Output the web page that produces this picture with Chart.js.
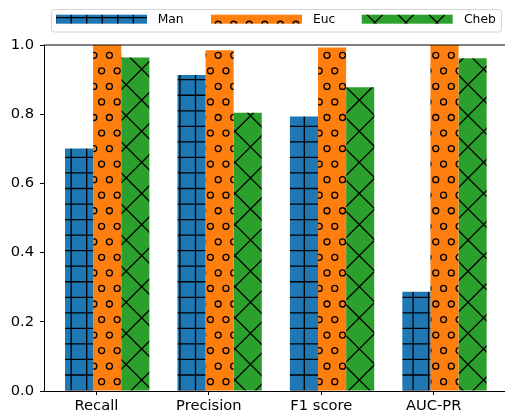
<!DOCTYPE html>
<html>
<head>
<meta charset="utf-8">
<script src="https://cdn.jsdelivr.net/npm/chart.js@4/dist/chart.umd.min.js"></script>
<style>
  html, body { margin: 0; padding: 0; background: #fff; overflow: hidden; }
  #wrap { width: 505px; height: 413px; }
</style>
</head>
<body>
<div id="wrap"><canvas id="c" width="505" height="413"></canvas></div>
<script>
// Metric names along the x axis
const categories = ['Recall', 'Precision', 'F1 score', 'AUC-PR'];
// Distance measures compared
const seriesNames = ['Man', 'Euc', 'Cheb'];
// Score per metric for each distance measure
const manValues  = [0.701, 0.913, 0.793, 0.287];
const eucValues  = [1.000, 0.985, 0.993, 1.000];
const chebValues = [0.964, 0.804, 0.878, 0.962];
// Value axis ticks
const yTicks = [0.0, 0.2, 0.4, 0.6, 0.8, 1.0];

// bar groups sit slightly right of their category tick
const GROUP_SHIFT = 0.096;

const FONT = '"DejaVu Sans", "Liberation Sans", sans-serif';
const canvas = document.getElementById('c');
const ctx = canvas.getContext('2d');

// ---- hatch patterns (tiles repeat seamlessly; 24 hatch steps per tile) ----
const TILE = 373;
const STEP = TILE / 24;
const HATCH_LW = 1.3;

function makePattern(bg, drawHatch) {
  const t = document.createElement('canvas');
  t.width = TILE; t.height = TILE;
  const g = t.getContext('2d');
  g.fillStyle = bg;
  g.fillRect(0, 0, TILE, TILE);
  g.strokeStyle = '#000';
  g.lineWidth = HATCH_LW;
  drawHatch(g);
  return ctx.createPattern(t, 'repeat');
}

// '+' : square grid
const gridHatch = (g) => {
  g.beginPath();
  for (let k = -1; k <= 25; k++) {
    const x = 9.0 + k * STEP;
    g.moveTo(x, -5); g.lineTo(x, TILE + 5);
    const y = 2.0 + k * STEP;
    g.moveTo(-5, y); g.lineTo(TILE + 5, y);
  }
  g.stroke();
};

// 'o' : small rings on staggered rows
const ringHatch = (g) => {
  const r = 3.0;
  for (let j = 0; j < 24; j++) {
    const y = 8.7 + j * STEP;
    const x0 = 0.6 + (j % 2 === 1 ? 0 : STEP / 2);
    for (let k = -1; k <= 24; k++) {
      const x = x0 + k * STEP;
      for (const dx of [-TILE, 0, TILE]) {
        for (const dy of [-TILE, 0, TILE]) {
          g.beginPath();
          g.arc(x + dx, y + dy, r, 0, Math.PI * 2);
          g.stroke();
        }
      }
    }
  }
};

// 'x' : crossing diagonals
const crossHatch = (g) => {
  const gap = 2 * STEP;
  g.beginPath();
  for (let k = -30; k <= 30; k++) {
    const c1 = 20.7 + k * gap;
    g.moveTo(-TILE, -TILE + c1); g.lineTo(2 * TILE, 2 * TILE + c1);
    const c2 = 24.3 + k * gap;
    g.moveTo(-TILE, TILE + c2); g.lineTo(2 * TILE, -2 * TILE + c2);
  }
  g.stroke();
};

const fills = [
  makePattern('#1f77b4', gridHatch),
  makePattern('#ff7f0e', ringHatch),
  makePattern('#2ca02c', crossHatch)
];

const seriesValues = [manValues, eucValues, chebValues];
const datasets = seriesNames.map((name, s) => ({
  label: name,
  data: seriesValues[s].map((v, i) => ({ x: i + GROUP_SHIFT, y: v })),
  backgroundColor: fills[s],
  borderWidth: 0,
  categoryPercentage: 0.75,
  barPercentage: 1.0
}));

// ---- frame line along the top of the plot ----
const topSpine = {
  id: 'topSpine',
  afterDatasetsDraw(chart) {
    const a = chart.chartArea;
    const c = chart.ctx;
    c.save();
    c.strokeStyle = '#000';
    c.lineWidth = 1;
    c.beginPath();
    c.moveTo(a.left, a.top);
    c.lineTo(a.right, a.top);
    c.stroke();
    c.restore();
  }
};

// ---- framed legend row above the plot ----
const legendRow = {
  id: 'legendRow',
  afterDraw(chart) {
    const c = chart.ctx;
    const box = { x: 51.5, y: 9.5, w: 450, h: 22.5, r: 3 };
    const patchX = [56, 211, 361.7];
    const textX = [157.7, 313, 464];
    const patchW = 91, patchY = 14.7, patchH = 9;
    c.save();
    c.beginPath();
    c.roundRect(box.x, box.y, box.w, box.h, box.r);
    c.fillStyle = 'rgba(255,255,255,0.9)';
    c.fill();
    c.strokeStyle = '#d4d4d4';
    c.lineWidth = 1;
    c.stroke();
    chart.data.datasets.forEach((ds, i) => {
      c.fillStyle = ds.backgroundColor;
      c.fillRect(patchX[i], patchY, patchW, patchH);
      c.fillStyle = '#000';
      c.font = '12.3px ' + FONT;
      c.textAlign = 'left';
      c.textBaseline = 'middle';
      c.fillText(ds.label, textX[i], 19.6);
    });
    c.restore();
  }
};

new Chart(canvas, {
  type: 'bar',
  data: { datasets },
  plugins: [topSpine, legendRow],
  options: {
    responsive: false,
    animation: false,
    devicePixelRatio: 1,
    layout: { padding: { top: 45, left: 0, right: 0, bottom: 0 } },
    plugins: { legend: { display: false }, tooltip: { enabled: false } },
    scales: {
      x: {
        type: 'linear',
        offset: false,
        min: -0.466,
        max: 3.634,
        afterBuildTicks: (scale) => { scale.ticks = categories.map((_, i) => ({ value: i })); },
        afterFit: (scale) => { scale.height = 22; },
        grid: { offset: false, drawOnChartArea: false, drawTicks: true, tickLength: 4, color: '#000', tickColor: '#000' },
        border: { display: true, color: '#000', width: 1 },
        ticks: {
          autoSkip: false,
          maxRotation: 0,
          padding: 2,
          color: '#000',
          font: { family: FONT, size: 14.7 },
          callback: (v) => categories[v] ?? ''
        }
      },
      y: {
        min: 0,
        max: 1,
        afterBuildTicks: (scale) => { scale.ticks = yTicks.map(v => ({ value: v })); },
        afterFit: (scale) => { scale.width = 44; },
        grid: { drawOnChartArea: false, drawTicks: true, tickLength: 4, color: '#000', tickColor: '#000' },
        border: { display: true, color: '#000', width: 1 },
        ticks: {
          padding: 6,
          color: '#000',
          font: { family: FONT, size: 14.7 },
          callback: (v) => Number(v).toFixed(1)
        }
      }
    }
  }
});
</script>
</body>
</html>
